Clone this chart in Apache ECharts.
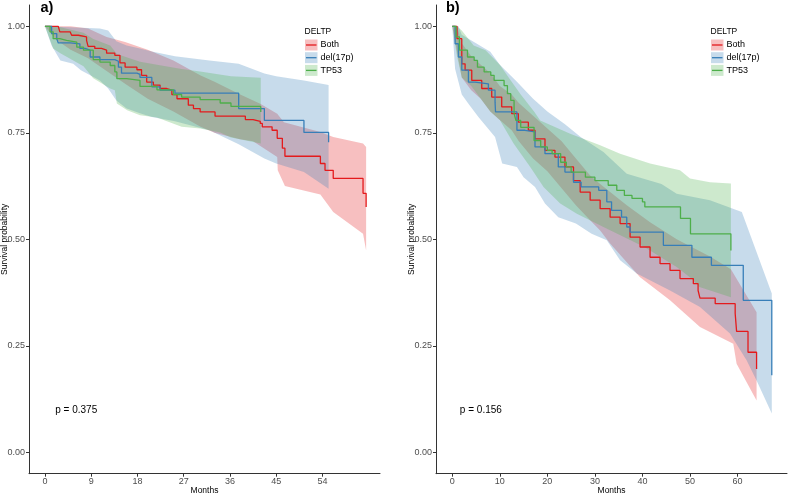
<!DOCTYPE html>
<html><head><meta charset="utf-8">
<script src="https://cdn.jsdelivr.net/npm/echarts@6.0.0/dist/echarts.min.js"></script>
<style>html,body{margin:0;padding:0;background:#fff}#c{width:788px;height:494px}</style>
</head><body><div id="c"></div>
<script>
// ---------- DATA ----------
var groups = ['Both', 'del(17p)', 'TP53'];
var legendTitle = 'DELTP';
var panelTitles = ['a)', 'b)'];
var pValues = ['p = 0.375', 'p = 0.156'];
var xTicksA = [0, 9, 18, 27, 36, 45, 54];
var xTicksB = [0, 10, 20, 30, 40, 50, 60];
var yTicks = [0, 0.25, 0.5, 0.75, 1];

// Panel a: survival steps [month, survival]
var a_both = [[0,1],[2.6,0.998],[2.9,0.987],[4.9,0.984],[5.2,0.979],[6.5,0.975],[8.1,0.967],[8.4,0.953],[9.7,0.948],[11.0,0.944],[12.0,0.937],[13.6,0.932],[14.6,0.914],[15.6,0.904],[17.9,0.898],[18.8,0.885],[19.8,0.869],[21.1,0.862],[22.4,0.854],[23.7,0.850],[24.7,0.840],[25.7,0.830],[27.9,0.815],[28.9,0.807],[30.2,0.799],[33.1,0.789],[39.0,0.781],[40.5,0.777],[41.9,0.772],[42.3,0.764],[44.2,0.756],[45.2,0.737],[46.2,0.714],[46.7,0.695],[53.6,0.678],[54.5,0.662],[56.1,0.643],[61.9,0.608],[62.5,0.576]];
var a_del = [[0,1],[1.3,0.983],[2.3,0.971],[2.6,0.961],[4.9,0.959],[6.8,0.948],[7.8,0.944],[8.8,0.928],[10.7,0.922],[13.6,0.918],[14.3,0.904],[14.9,0.890],[17.9,0.887],[18.5,0.880],[20.8,0.858],[22.4,0.850],[25.3,0.843],[37.7,0.807],[42.7,0.779],[50.4,0.751],[55.2,0.728]];
var a_tp53 = [[0,1],[1.0,0.987],[1.6,0.971],[2.9,0.967],[4.2,0.963],[6.2,0.951],[7.5,0.944],[9.4,0.922],[10.7,0.916],[12.7,0.908],[13.6,0.893],[14.0,0.877],[15.9,0.873],[18.5,0.859],[21.8,0.851],[25.0,0.840],[26.6,0.834],[30.2,0.828],[34.1,0.820],[36.2,0.812],[42.0,0.799]];
// Panel a: confidence limits [month, value]
var a_both_hi = [[0,1],[5,1],[8.4,0.995],[12,0.975],[15.6,0.963],[20,0.945],[25,0.92],[30.2,0.885],[33,0.87],[38,0.84],[41.9,0.818],[45.2,0.795],[46.5,0.775],[53.6,0.752],[56.1,0.74],[61.9,0.725],[62.5,0.717]];
var a_both_lo = [[0,1],[2,0.97],[5,0.945],[8.4,0.925],[12,0.895],[15.6,0.865],[20,0.83],[25,0.8],[30.2,0.765],[33,0.75],[38,0.735],[40.5,0.73],[45.2,0.693],[45.3,0.662],[46.7,0.625],[53.6,0.605],[56.1,0.564],[61.9,0.513],[62.5,0.474]];
var a_del_hi = [[0,1],[10.7,0.995],[12.3,0.99],[13.9,0.965],[15.9,0.955],[18.5,0.948],[20.8,0.941],[25.3,0.93],[32,0.92],[37.7,0.912],[42.7,0.889],[45,0.883],[50.4,0.873],[55.2,0.862]];
var a_del_lo = [[0,1],[1.3,0.955],[3,0.92],[5.5,0.912],[7,0.897],[10.7,0.873],[12.3,0.854],[13.9,0.826],[15.9,0.807],[18.5,0.796],[20.8,0.787],[25.3,0.777],[32,0.756],[37.7,0.723],[42.7,0.69],[45,0.678],[50.4,0.658],[55.2,0.619]];
var a_tp53_hi = [[0,1],[3,0.998],[7.5,0.985],[9.4,0.97],[12.7,0.955],[14,0.935],[18.5,0.917],[21.8,0.91],[26.6,0.9],[30.2,0.894],[36.2,0.883],[42,0.879]];
var a_tp53_lo = [[0,1],[1.6,0.948],[3,0.937],[7.5,0.906],[9.4,0.878],[12.7,0.854],[13.6,0.85],[14,0.819],[16,0.803],[18.5,0.791],[21.8,0.786],[26.6,0.764],[30.2,0.76],[34.1,0.751],[36.2,0.739],[42,0.725]];

// Panel b: survival steps
var b_both = [[0,1],[1.0,0.971],[2.0,0.912],[2.7,0.897],[4.1,0.873],[6.2,0.854],[8.3,0.834],[10.4,0.811],[12.5,0.795],[13.9,0.775],[16.0,0.756],[17.4,0.736],[19.5,0.709],[21.6,0.693],[23.7,0.670],[25.5,0.638],[26.9,0.611],[29.0,0.592],[31.1,0.572],[33.2,0.552],[35.3,0.537],[37.4,0.505],[39.5,0.482],[41.6,0.458],[43.7,0.443],[45.8,0.427],[47.9,0.408],[50.7,0.396],[51.7,0.380],[52.1,0.362],[55.3,0.349],[59.5,0.326],[59.8,0.284],[62.2,0.235],[64.0,0.196]];
var b_del = [[0,1],[0.6,0.959],[1.3,0.928],[2.0,0.897],[3.4,0.869],[4.8,0.865],[7.6,0.850],[9.0,0.822],[9.1,0.799],[13.6,0.756],[15.3,0.752],[17.4,0.717],[19.5,0.701],[22.3,0.670],[23.7,0.658],[25.5,0.634],[27.1,0.623],[30.8,0.615],[32.5,0.588],[33.5,0.568],[35.6,0.552],[36.7,0.529],[37.4,0.517],[44.4,0.486],[50.4,0.458],[54.5,0.439],[61.2,0.357],[67.2,0.181]];
var b_tp53 = [[0,1],[0.8,0.975],[1.5,0.944],[3.2,0.928],[4.6,0.920],[5.3,0.904],[6.7,0.893],[8.1,0.885],[8.8,0.873],[10.9,0.861],[11.6,0.842],[12.3,0.826],[13.0,0.795],[13.4,0.779],[14.4,0.763],[17.2,0.732],[18.6,0.717],[20.0,0.709],[21.0,0.701],[22.8,0.681],[24.0,0.670],[25.0,0.658],[28.0,0.646],[30.0,0.638],[32.8,0.627],[34.6,0.615],[36.2,0.603],[37.8,0.596],[40.0,0.588],[40.5,0.576],[48.0,0.549],[50.1,0.513],[58.6,0.474]];
// Panel b: confidence limits
var b_both_hi = [[0,1],[1,1],[2,0.96],[4,0.93],[6,0.91],[8,0.89],[10,0.86],[12.5,0.84],[14,0.82],[17,0.79],[20,0.76],[23,0.73],[26,0.69],[29,0.65],[31.1,0.63],[36.7,0.58],[41.6,0.54],[47.2,0.50],[54.2,0.46],[58.6,0.43],[64,0.329]];
var b_both_lo = [[0,1],[1,0.94],[2,0.88],[4,0.85],[6,0.83],[8,0.80],[10,0.78],[12.5,0.756],[14,0.73],[17,0.69],[20,0.66],[23,0.62],[26,0.58],[29,0.545],[31.1,0.521],[33.2,0.49],[39.5,0.411],[45.8,0.357],[52.1,0.294],[59.1,0.255],[59.8,0.208],[64,0.122]];
var b_del_hi = [[0,1],[1.3,1],[2,0.98],[5,0.96],[8,0.94],[10,0.91],[13.6,0.87],[17,0.83],[20,0.80],[23.7,0.77],[27,0.74],[31.8,0.705],[36.7,0.654],[44,0.63],[47.2,0.607],[54.2,0.592],[60.9,0.564],[67.2,0.373]];
var b_del_lo = [[0,1],[0.6,0.90],[1.3,0.87],[2,0.84],[3.4,0.818],[5.5,0.787],[9,0.74],[10.5,0.678],[13.6,0.67],[15,0.646],[17.4,0.623],[19.5,0.584],[22.3,0.552],[26,0.537],[29.3,0.513],[32.5,0.498],[35.3,0.451],[38.8,0.42],[45.8,0.38],[52.1,0.341],[58.4,0.279],[61.9,0.216],[64,0.169],[67.2,0.091]];
var b_tp53_hi = [[0,1],[1,1],[2,0.99],[4.5,0.955],[7,0.944],[10,0.91],[12.3,0.873],[14.4,0.84],[17.2,0.80],[18.5,0.779],[24.8,0.748],[31.1,0.721],[35.3,0.701],[41.6,0.678],[47.9,0.662],[50,0.643],[54.2,0.634],[58.6,0.631]];
var b_tp53_lo = [[0,1],[1,0.93],[2,0.88],[4,0.86],[6,0.83],[8,0.80],[10,0.78],[12.9,0.725],[16.4,0.670],[19.2,0.623],[22.7,0.584],[26.2,0.560],[31.8,0.529],[40.4,0.482],[47.2,0.435],[50.1,0.41],[52,0.388],[58.6,0.364]];

// ---------- STYLE ----------
var lineColors = ['#E41A1C', '#377EB8', '#4DAF4A'];
var bandColors = ['rgba(228,26,28,0.28)', 'rgba(55,126,184,0.28)', 'rgba(77,175,74,0.28)'];
var FONT = '"Liberation Sans", Arial, sans-serif';
var AX = '#333333';
var LAB = '#4D4D4D';

var chart = echarts.init(document.getElementById('c'), null, {renderer: 'canvas'});

function bandSeries(hi, lo, color, idx) {
  return {
    type: 'custom', xAxisIndex: idx, yAxisIndex: idx, silent: true, clip: true, z: 1,
    data: hi.map(function (p) { return [p[0], p[1]]; }),
    renderItem: function (params, api) {
      if (params.dataIndex !== 0) return null;
      var pts = [];
      hi.forEach(function (p) { pts.push(api.coord(p)); });
      for (var i = lo.length - 1; i >= 0; i--) pts.push(api.coord(lo[i]));
      return {type: 'polygon', shape: {points: pts}, style: {fill: color, stroke: null}};
    }
  };
}
function lineSeries(data, color, idx, name) {
  return {
    type: 'line', name: name, xAxisIndex: idx, yAxisIndex: idx, data: data, step: 'end',
    showSymbol: false, symbol: 'none', z: 3, silent: true,
    lineStyle: {color: color, width: 1.3}
  };
}
function xAxis(idx, min, max, ticks) {
  return {
    type: 'value', gridIndex: idx, min: min, max: max,
    name: 'Months', nameLocation: 'middle', nameGap: 12.5, nameMoveOverlap: false,
    nameTextStyle: {fontFamily: FONT, fontSize: 8.5, color: '#000'},
    axisLine: {show: true, onZero: false, lineStyle: {color: AX, width: 1}},
    axisTick: {show: true, length: 3, lineStyle: {color: AX}, customValues: ticks},
    axisLabel: {fontFamily: FONT, fontSize: 9, color: LAB, margin: 3, customValues: ticks},
    splitLine: {show: false}
  };
}
function yAxis(idx) {
  return {
    type: 'value', gridIndex: idx, min: -0.05, max: 1.05,
    name: 'Survival probability', nameLocation: 'middle', nameGap: 20, nameRotate: 90, nameMoveOverlap: false,
    nameTextStyle: {fontFamily: FONT, fontSize: 8.5, color: '#000'},
    axisLine: {show: true, onZero: false, lineStyle: {color: AX, width: 1}},
    axisTick: {show: true, length: 3, lineStyle: {color: AX}, customValues: yTicks},
    axisLabel: {fontFamily: FONT, fontSize: 9, color: LAB, margin: 4, customValues: yTicks,
      formatter: function (v) { return v.toFixed(2); }},
    splitLine: {show: false}
  };
}

var bandsA = [[a_both_hi, a_both_lo], [a_del_hi, a_del_lo], [a_tp53_hi, a_tp53_lo]];
var bandsB = [[b_both_hi, b_both_lo], [b_del_hi, b_del_lo], [b_tp53_hi, b_tp53_lo]];
var linesA = [a_both, a_del, a_tp53];
var linesB = [b_both, b_del, b_tp53];

var series = [];
[bandsA, bandsB].forEach(function (bands, p) {
  bands.forEach(function (b, i) { series.push(bandSeries(b[0], b[1], bandColors[i], p)); });
});
[linesA, linesB].forEach(function (lines, p) {
  lines.forEach(function (l, i) { series.push(lineSeries(l, lineColors[i], p, groups[i])); });
});

function legendGraphic(x0) {
  var els = [{type: 'text', left: x0, top: 27, style: {text: legendTitle, font: '8.5px ' + FONT, fill: '#000'}}];
  groups.forEach(function (g, i) {
    var cy = 45 + i * 12.7;
    els.push({type: 'rect', shape: {x: x0 + 0.5, y: cy - 5.5, width: 12.5, height: 11}, style: {fill: bandColors[i]}});
    els.push({type: 'line', shape: {x1: x0 + 1.5, y1: cy, x2: x0 + 12, y2: cy}, style: {stroke: lineColors[i], lineWidth: 1.3}});
    els.push({type: 'text', x: x0 + 16, y: cy, style: {text: g, font: '9px ' + FONT, fill: '#000', textVerticalAlign: 'middle'}});
  });
  return els;
}

var graphics = [
  {type: 'text', x: 40.5, y: 8, style: {text: panelTitles[0], font: 'bold 14.5px ' + FONT, fill: '#000', textVerticalAlign: 'middle'}},
  {type: 'text', x: 446, y: 8, style: {text: panelTitles[1], font: 'bold 14.5px ' + FONT, fill: '#000', textVerticalAlign: 'middle'}}
].concat(legendGraphic(304.5)).concat(legendGraphic(710.5));

chart.setOption({
  animation: false,
  backgroundColor: '#fff',
  grid: [
    {left: 29, top: 5, width: 351, height: 468.7, containLabel: false, outerBoundsMode: 'none'},
    {left: 436, top: 5, width: 351, height: 468.7, containLabel: false, outerBoundsMode: 'none'}
  ],
  xAxis: [xAxis(0, -3.1, 65.2, xTicksA), xAxis(1, -3.42, 70.4, xTicksB)],
  yAxis: [yAxis(0), yAxis(1)],
  series: series,
  graphic: graphics
});

// p-value annotations placed in data coordinates
var pa = chart.convertToPixel({gridIndex: 0}, [2, 0.1]);
var pb = chart.convertToPixel({gridIndex: 1}, [1.6, 0.1]);
chart.setOption({graphic: graphics.concat([
  {type: 'text', x: pa[0], y: pa[1], style: {text: pValues[0], font: '10px ' + FONT, fill: '#000', textVerticalAlign: 'middle'}},
  {type: 'text', x: pb[0], y: pb[1], style: {text: pValues[1], font: '10px ' + FONT, fill: '#000', textVerticalAlign: 'middle'}}
])});
</script>
</body></html>
